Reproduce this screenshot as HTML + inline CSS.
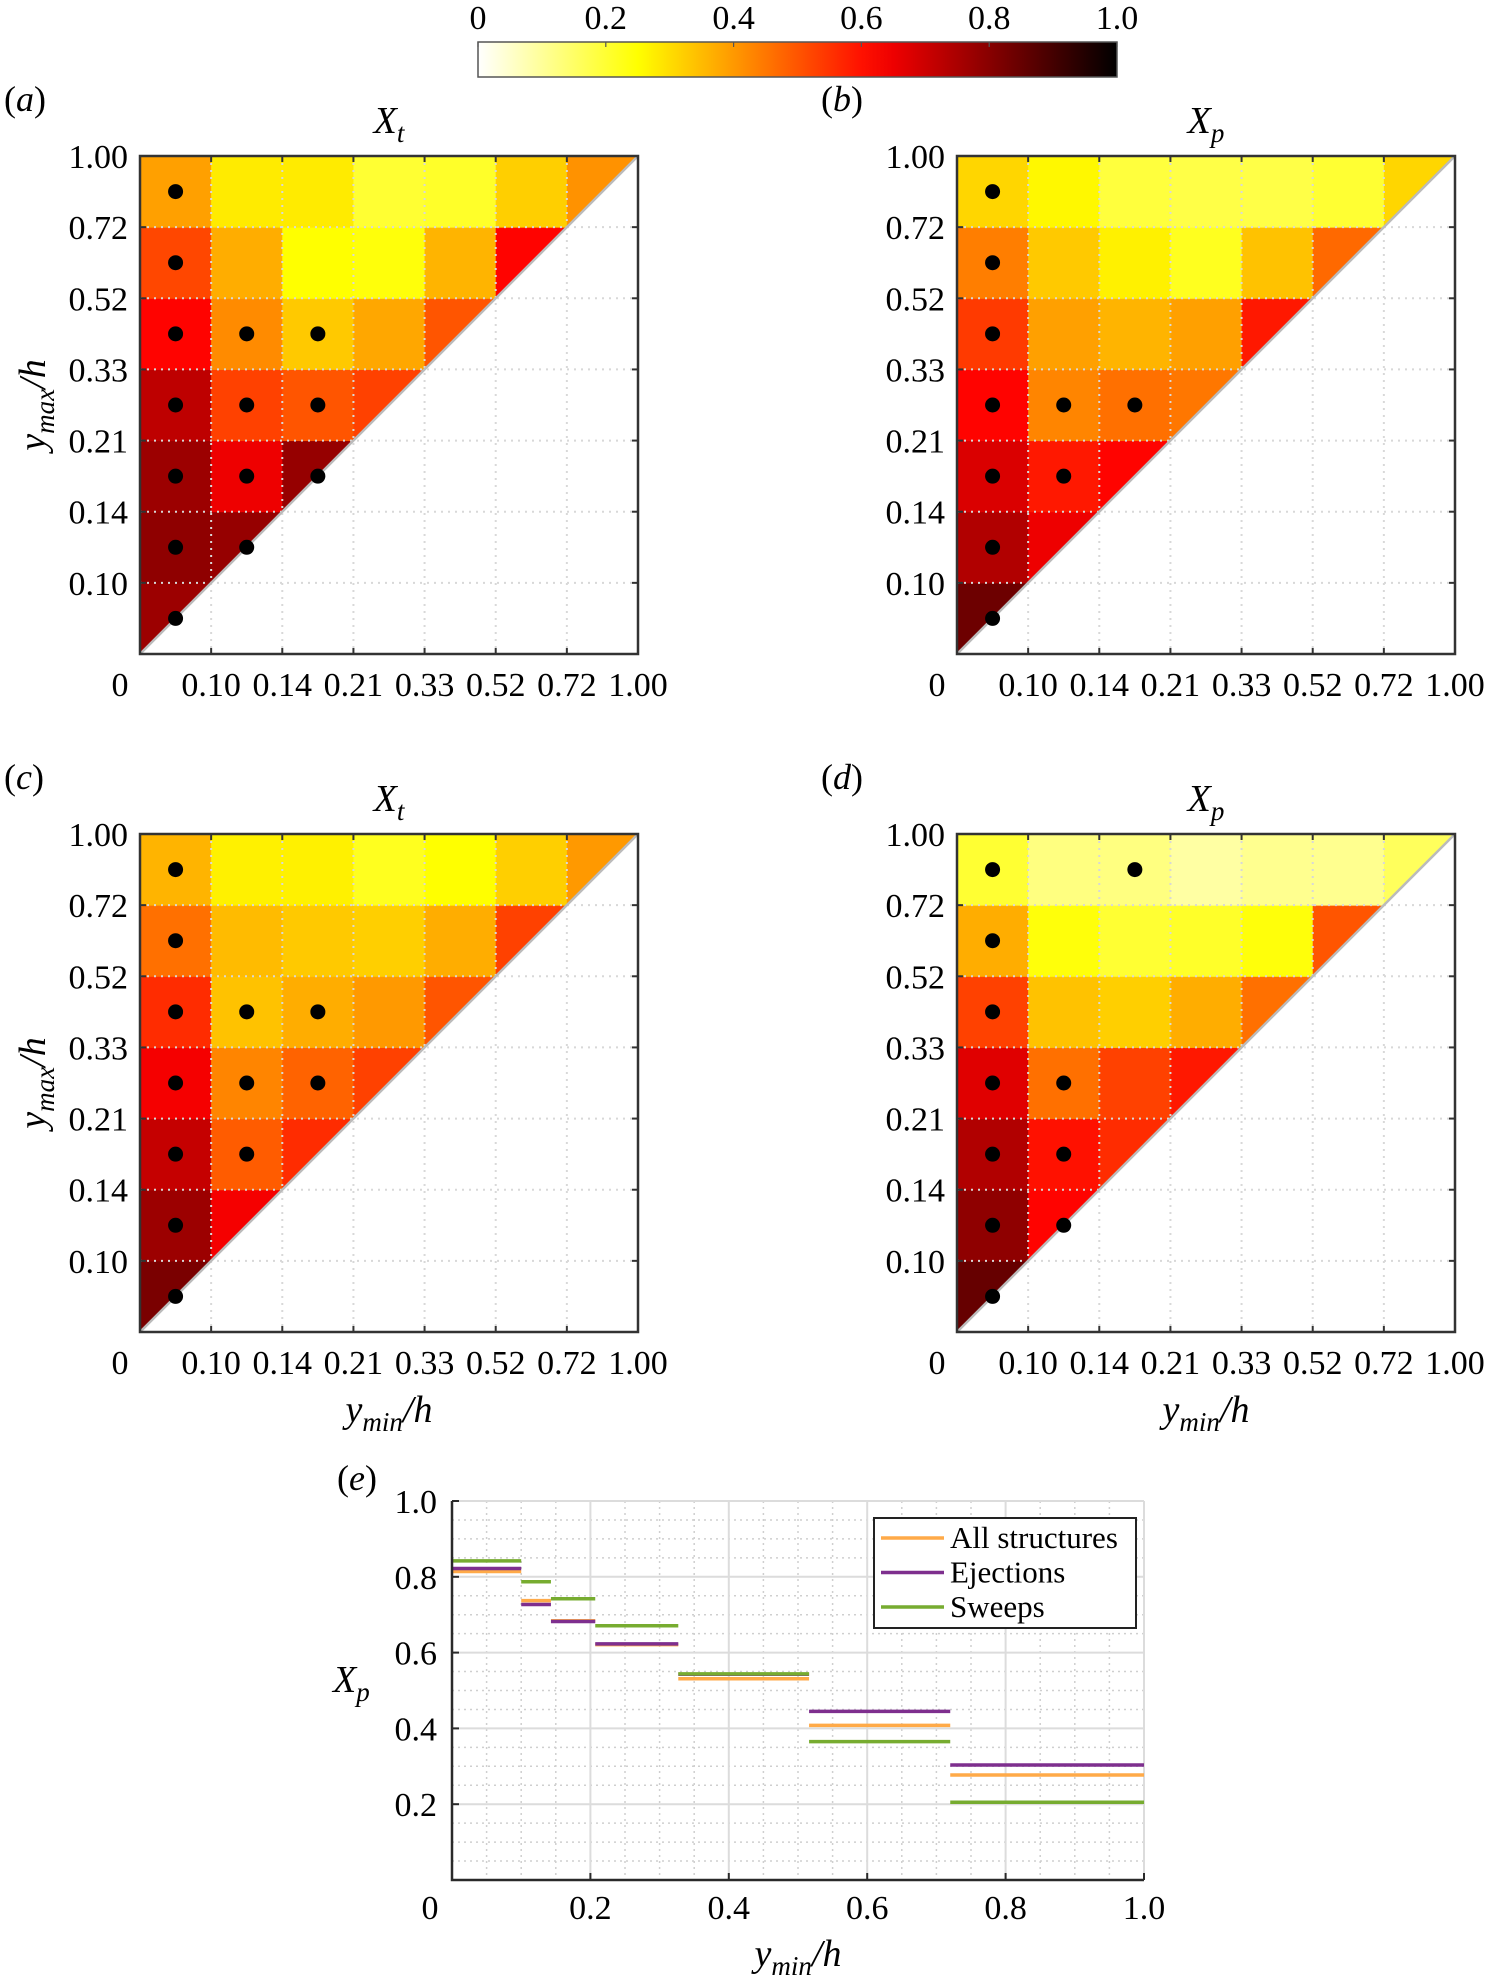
<!DOCTYPE html>
<html><head><meta charset="utf-8"><style>
body{margin:0;background:#fff}
svg{display:block}
svg text{font-family:"Liberation Serif","Times New Roman",serif}
</style></head><body>
<svg id="fig" width="1485" height="1983" viewBox="0 0 1485 1983" xmlns="http://www.w3.org/2000/svg" font-family="Liberation Serif, serif">
<defs><linearGradient id="cbg" x1="0" x2="1" y1="0" y2="0"></linearGradient></defs>
</svg>
<script>
// ---------- data ----------
const yTickLabels=['0.10','0.14','0.21','0.33','0.52','0.72','1.00'];
const valsA=[[.77],[.79,.78],[.77,.65,.78],[.72,.53,.50,.53],[.62,.42,.33,.38,.50],[.52,.37,.25,.24,.36,.62],[.39,.28,.28,.20,.21,.32,.41]];
const valsB=[[.84],[.74,.65],[.68,.59,.62],[.62,.43,.46,.45],[.54,.39,.36,.39,.59],[.44,.33,.27,.22,.34,.47],[.31,.26,.19,.18,.18,.20,.31]];
const valsC=[[.82],[.77,.64],[.71,.49,.56],[.64,.43,.48,.53],[.56,.34,.37,.40,.50],[.46,.35,.33,.32,.37,.53],[.36,.27,.27,.22,.25,.32,.40]];
const valsD=[[.85],[.79,.62],[.74,.60,.56],[.67,.46,.53,.59],[.53,.34,.32,.37,.46],[.37,.24,.20,.21,.24,.50],[.20,.125,.125,.09,.11,.11,.16]];
const dotsA=[[0,0],[1,0],[1,1],[2,0],[2,1],[2,2],[3,0],[3,1],[3,2],[4,0],[4,1],[4,2],[5,0],[6,0]];
const dotsB=[[0,0],[1,0],[2,0],[2,1],[3,0],[3,1],[3,2],[4,0],[5,0],[6,0]];
const dotsC=[[0,0],[1,0],[2,0],[2,1],[3,0],[3,1],[3,2],[4,0],[4,1],[4,2],[5,0],[6,0]];
const dotsD=[[0,0],[1,0],[1,1],[2,0],[2,1],[3,0],[3,1],[4,0],[5,0],[6,0],[6,2]];
const cbTicks=['0','0.2','0.4','0.6','0.8','1.0'];
const segEdges=[0,0.10,0.143,0.207,0.327,0.516,0.72,1.00];
const allStruct=[.814,.737,.684,.621,.531,.408,.277];
const ejections=[.822,.727,.682,.623,.543,.445,.3035];
const sweeps=[.842,.787,.742,.671,.544,.365,.205];
const eXTicks=['0','0.2','0.4','0.6','0.8','1.0'];
const eYTicks=['0.2','0.4','0.6','0.8','1.0'];

// ---------- helpers ----------
const NS='http://www.w3.org/2000/svg';
const svg=document.getElementById('fig');
const FF='Liberation Serif, Times New Roman, serif';
const FS=34;
function mk(tag,attrs,parent){const e=document.createElementNS(NS,tag);for(const k in attrs)e.setAttribute(k,attrs[k]);if(tag==='text')e.setAttribute('font-family',FF);(parent||svg).appendChild(e);return e;}
function cmap(v){const t=1-Math.max(0,Math.min(1,v));
 const r=Math.min(1,t/0.375),g=Math.max(0,Math.min(1,(t-0.375)/0.375)),b=Math.max(0,Math.min(1,(t-0.75)/0.25));
 return `rgb(${Math.round(r*255)},${Math.round(g*255)},${Math.round(b*255)})`;}
function mathLabel(parent,x,y,base,sub,tail,anchor,extra){
 const t=mk('text',Object.assign({x:x,y:y,'font-size':38,'text-anchor':anchor||'middle'},extra||{}),parent);
 const a=mk('tspan',{'font-style':'italic'},t);a.textContent=base;
 const s=mk('tspan',{'font-style':'italic','font-size':27,dy:9},t);s.textContent=sub;
 if(tail){const c=mk('tspan',{'font-style':'italic',dy:-9},t);c.textContent=tail;}
 return t;}

// ---------- colorbar ----------
const grad=document.getElementById('cbg');
for(let i=0;i<=20;i++){mk('stop',{offset:(i/20),'stop-color':cmap(i/20)},grad);}
const cb=mk('g',{});


const cbX=478,cbW=639,cbY=42,cbH=35;
mk('rect',{x:cbX,y:cbY,width:cbW,height:cbH,fill:'url(#cbg)',stroke:'#555','stroke-width':1.5},cb);
cbTicks.forEach((lab,i)=>{const x=cbX+cbW*i/(cbTicks.length-1);
 mk('line',{x1:x,x2:x,y1:cbY,y2:cbY+5,stroke:'#555','stroke-width':1.2},cb);
 const t=mk('text',{x:x,y:29,'font-size':FS,'text-anchor':'middle'},cb);
 
 
 t.textContent=lab;});

// ---------- heatmap panels ----------
const panels=[
 {id:'a',x:140,y:156,vals:valsA,dots:dotsA,title:'t',ylab:true,xlab:false},
 {id:'b',x:957,y:156,vals:valsB,dots:dotsB,title:'p',ylab:false,xlab:false},
 {id:'c',x:140,y:834,vals:valsC,dots:dotsC,title:'t',ylab:true,xlab:true},
 {id:'d',x:957,y:834,vals:valsD,dots:dotsD,title:'p',ylab:false,xlab:true}];
const S=498,N=7,cw=S/N;
panels.forEach(p=>{
 const g=mk('g',{});
 
 
 const xs=i=>p.x+i*cw, ys=j=>p.y+S-j*cw;
 p.vals.forEach((row,j)=>row.forEach((v,i)=>{
  let el;
  if(i<j){el=mk('rect',{x:xs(i),y:ys(j+1),width:cw+0.5,height:cw+0.5,fill:cmap(v)},g);}
  else{el=mk('polygon',{points:`${xs(i)},${ys(j)} ${xs(i)},${ys(j+1)} ${xs(i+1)},${ys(j+1)}`,fill:cmap(v)},g);}
  
  
 }));
 for(let k=1;k<N;k++){
  mk('line',{x1:xs(k),x2:xs(k),y1:p.y,y2:p.y+S,stroke:'#d8d8d8','stroke-width':2,'stroke-dasharray':'2 5'},g);
  mk('line',{x1:p.x,x2:p.x+S,y1:ys(k),y2:ys(k),stroke:'#d8d8d8','stroke-width':2,'stroke-dasharray':'2 5'},g);
 }
 mk('line',{x1:p.x,y1:p.y+S,x2:p.x+S,y2:p.y,stroke:'#bbb','stroke-width':2.5},g);
 p.dots.forEach(([j,i])=>{const d=mk('circle',{cx:xs(i)+cw/2,cy:ys(j)-cw/2,r:7.5,fill:'#000'},g);
  
  });
 mk('rect',{x:p.x,y:p.y,width:S,height:S,fill:'none',stroke:'#333','stroke-width':2.5},g);
 for(let k=1;k<N;k++){
  mk('line',{x1:xs(k),x2:xs(k),y1:p.y+S,y2:p.y+S-6,stroke:'#333','stroke-width':2},g);
  mk('line',{x1:xs(k),x2:xs(k),y1:p.y,y2:p.y+6,stroke:'#333','stroke-width':2},g);
  mk('line',{x1:p.x,x2:p.x+6,y1:ys(k),y2:ys(k),stroke:'#333','stroke-width':2},g);
  mk('line',{x1:p.x+S,x2:p.x+S-6,y1:ys(k),y2:ys(k),stroke:'#333','stroke-width':2},g);
 }
 yTickLabels.forEach((lab,k)=>{
  const ty=mk('text',{x:p.x-12,y:ys(k+1)+12,'font-size':FS,'text-anchor':'end'},g);
  
  
  ty.textContent=lab;
  const tx=mk('text',{x:xs(k+1),y:p.y+S+42,'font-size':FS,'text-anchor':'middle'},g);
  
  
  tx.textContent=lab;
 });
 const z=mk('text',{x:p.x-20,y:p.y+S+42,'font-size':FS,'text-anchor':'middle'},g);
 
 
 z.textContent='0';
 const pl=mk('text',{x:p.x-136,y:p.y-45,'font-size':36},g);
 
 
 pl.textContent='(';const it=mk('tspan',{'font-style':'italic'},pl);it.textContent=p.id;const cl=mk('tspan',{},pl);cl.textContent=')';
 const tt=mathLabel(g,p.x+S/2,p.y-23,'X',p.title,null,'middle');
 
 
 if(p.ylab){const yl=mathLabel(g,0,0,'y','max','/h','middle',{transform:`translate(${p.x-95},${p.y+S/2}) rotate(-90)`});
  
  }
 if(p.xlab){const xl=mathLabel(g,p.x+S/2,p.y+S+90,'y','min','/h','middle');
  
  }
});

// ---------- panel e ----------
const E={x:452,y:1501,w:692,h:379};
const ex=v=>E.x+v*E.w, ey=v=>E.y+E.h-v*E.h;
const ge=mk('g',{});


for(let k=1;k<20;k++){if(k%4===0)continue;
 mk('line',{x1:ex(k*0.05),x2:ex(k*0.05),y1:E.y,y2:E.y+E.h,stroke:'#cfcfcf','stroke-width':1.5,'stroke-dasharray':'2 4'},ge);
 mk('line',{x1:E.x,x2:E.x+E.w,y1:ey(k*0.05),y2:ey(k*0.05),stroke:'#cfcfcf','stroke-width':1.5,'stroke-dasharray':'2 4'},ge);}
for(let k=1;k<=5;k++){
 mk('line',{x1:ex(k*0.2),x2:ex(k*0.2),y1:E.y,y2:E.y+E.h,stroke:'#dcdcdc','stroke-width':2},ge);
 mk('line',{x1:E.x,x2:E.x+E.w,y1:ey(k*0.2),y2:ey(k*0.2),stroke:'#dcdcdc','stroke-width':2},ge);}
const series=[['all-structures',allStruct,'#ffaa48'],['ejections',ejections,'#7e2f8e'],['sweeps',sweeps,'#77ac30']];
series.forEach(([nm,arr,col])=>{arr.forEach((v,i)=>{
 const l=mk('line',{x1:ex(segEdges[i]),x2:ex(segEdges[i+1]),y1:ey(v),y2:ey(v),stroke:col,'stroke-width':3.5},ge);
 
 });});
mk('path',{d:`M${E.x},${E.y} V${E.y+E.h} H${E.x+E.w}`,fill:'none',stroke:'#2a2a2a','stroke-width':2.5},ge);
eXTicks.forEach((lab,k)=>{const v=k*0.2;
 if(k>0)mk('line',{x1:ex(v),x2:ex(v),y1:E.y+E.h,y2:E.y+E.h-7,stroke:'#2a2a2a','stroke-width':2},ge);
 const t=mk('text',{x:k===0?ex(v)-22:ex(v),y:1919,'font-size':FS,'text-anchor':'middle'},ge);
 
 
 t.textContent=lab;});
eYTicks.forEach((lab,k)=>{const v=(k+1)*0.2;
 mk('line',{x1:E.x,x2:E.x+7,y1:ey(v),y2:ey(v),stroke:'#2a2a2a','stroke-width':2},ge);
 const t=mk('text',{x:437,y:ey(v)+12,'font-size':FS,'text-anchor':'end'},ge);
 
 
 t.textContent=lab;});
const pe=mk('text',{x:337,y:1490,'font-size':36},ge);


pe.textContent='(';const pei=mk('tspan',{'font-style':'italic'},pe);pei.textContent='e';const pec=mk('tspan',{},pe);pec.textContent=')';
const eyl=mathLabel(ge,333,1692,'X','p',null,'start');


const exl=mathLabel(ge,798,1966,'y','min','/h','middle');


// legend
const lg=mk('g',{});


mk('rect',{x:874,y:1518,width:262,height:110,fill:'#fff',stroke:'#222','stroke-width':2},lg);
series.forEach(([nm,arr,col],i)=>{const yy=1538+i*34.5;
 const en=mk('g',{},lg);
 
 
 mk('line',{x1:881,x2:944,y1:yy,y2:yy,stroke:col,'stroke-width':3.5},en);
 const t=mk('text',{x:950,y:yy+10,'font-size':31},en);
 t.textContent=['All structures','Ejections','Sweeps'][i];});
</script>
</body></html>
